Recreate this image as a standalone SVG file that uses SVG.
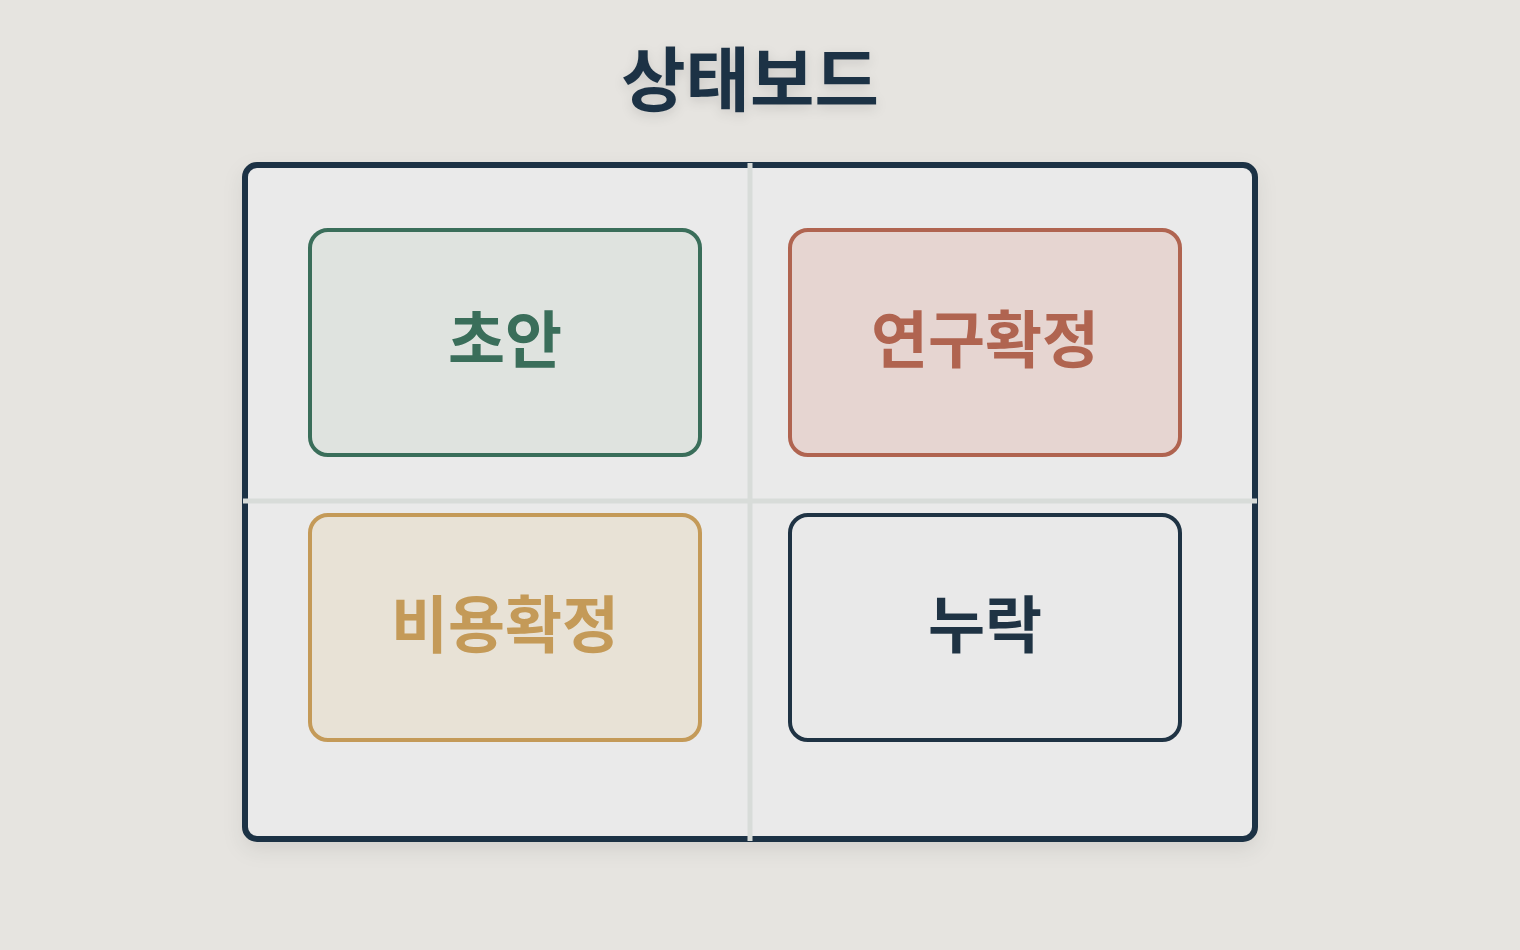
<svg xmlns="http://www.w3.org/2000/svg" width="1520" height="950" viewBox="0 0 1520 950">
<defs>
<filter id="sh" x="-10%" y="-10%" width="120%" height="130%">
<feDropShadow dx="0" dy="8" stdDeviation="10" flood-color="#000" flood-opacity="0.08"/>
</filter>
<filter id="tsh" x="-10%" y="-20%" width="120%" height="160%">
<feDropShadow dx="0" dy="4" stdDeviation="6" flood-color="#000" flood-opacity="0.12"/>
</filter>
</defs>
<style>
text{font-family:"Noto Sans CJK KR","Noto Sans",sans-serif;font-weight:700;text-anchor:middle;dominant-baseline:central}
.box{stroke-width:4}
.lbl{font-size:62px}
</style>
<rect width="1520" height="950" fill="#e6e4e0"/>
<g id="title"><text x="750" y="75" font-size="70" fill="#1f3344" filter="url(#tsh)">상태보드</text></g>
<g id="frame">
<rect x="245" y="165" width="1010" height="674" rx="12" fill="#eaeaea" stroke="#1f3344" stroke-width="6" filter="url(#sh)"/>
</g>
<g id="dividers">
<line x1="750" y1="163" x2="750" y2="841" stroke="#d8dcd9" stroke-width="5"/>
<line x1="243" y1="501" x2="1257" y2="501" stroke="#d8dcd9" stroke-width="5"/>
</g>
<g id="draft">
<rect class="box" x="310" y="230" width="390" height="225" rx="18" fill="#dfe3df" stroke="#3a6e5a"/>
<text class="lbl" x="505" y="336" fill="#3a6e5a">초안</text>
</g>
<g id="research">
<rect class="box" x="790" y="230" width="390" height="225" rx="18" fill="#e6d5d1" stroke="#b06450"/>
<text class="lbl" x="985" y="336" fill="#b06450">연구확정</text>
</g>
<g id="cost">
<rect class="box" x="310" y="515" width="390" height="225" rx="18" fill="#e8e2d6" stroke="#c49a58"/>
<text class="lbl" x="505" y="621" fill="#c49a58">비용확정</text>
</g>
<g id="missing">
<rect class="box" x="790" y="515" width="390" height="225" rx="18" fill="#e9e9e9" stroke="#1f3344"/>
<text class="lbl" x="985" y="621" fill="#1f3344">누락</text>
</g>
</svg>
